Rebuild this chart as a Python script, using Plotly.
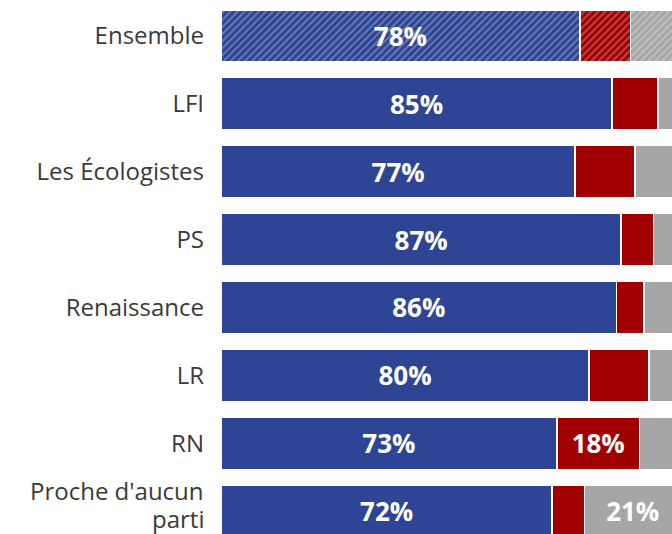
import plotly.graph_objects as go

categories = ["Ensemble", "LFI", "Les Écologistes", "PS", "Renaissance", "LR", "RN", "Proche d'aucun<br>parti"]
blue_vals = [78, 85, 77, 87, 86, 80, 73, 72]
red_vals = [11, 10, 13, 7, 6, 13, 18, 7]
gray_vals = [11, 5, 10, 6, 8, 7, 9, 21]

series = [
    ("bleu", blue_vals, "#2E4494"),
    ("rouge", red_vals, "#A00000"),
    ("gris", gray_vals, "#A6A6A6"),
]

LABEL_FONT = dict(family="Open Sans", size=24, color="#3a3a3a")

fig = go.Figure()
for name, vals, color in series:
    texts = [f"{v}%" if v >= 15 else "" for v in vals]
    shapes = ["/" if c == "Ensemble" else "" for c in categories]
    fig.add_trace(go.Bar(
        name=name,
        y=categories,
        x=vals,
        orientation="h",
        marker=dict(
            color=color,
            line=dict(color="white", width=1.5),
            pattern=dict(shape=shapes, fgcolor="rgba(255,255,255,0.6)", size=5, solidity=0.35),
        ),
        text=texts,
        textposition="inside",
        insidetextanchor="middle",
        textangle=0,
        textfont=dict(color="white", size=26, family="Open Sans", weight="bold"),
        hoverinfo="skip",
    ))

# multi-line category labels are drawn as separate lines (tighter line spacing)
ticktext = [c if "<br>" not in c else "" for c in categories]
for c in categories:
    if "<br>" in c:
        lines = c.split("<br>")
        shifts = [21, -7.5]
        for line, ys in zip(lines, shifts):
            fig.add_annotation(
                text=line, xref="paper", x=0, xanchor="right", xshift=-15,
                yref="y", y=c, yanchor="middle", yshift=ys,
                showarrow=False, font=LABEL_FONT,
            )

fig.update_layout(
    barmode="stack",
    bargap=0.23,
    width=672,
    height=534,
    margin=dict(l=221, r=0, t=0, b=0),
    paper_bgcolor="white",
    plot_bgcolor="white",
    showlegend=False,
    font=LABEL_FONT,
)
fig.update_xaxes(range=[0, 98.04], visible=False, showgrid=False, zeroline=False, automargin=False)
fig.update_yaxes(
    type="category",
    categoryorder="array",
    categoryarray=categories,
    tickmode="array",
    tickvals=categories,
    ticktext=ticktext,
    range=[7.338, -0.529],
    showgrid=False,
    zeroline=False,
    showline=False,
    ticks="",
    automargin=False,
    ticklabelstandoff=16,
    tickfont=LABEL_FONT,
)

fig.write_html(
    "out.html",
    config={"displayModeBar": False},
    post_script="document.body.style.margin='0';document.body.style.overflow='hidden';",
)
